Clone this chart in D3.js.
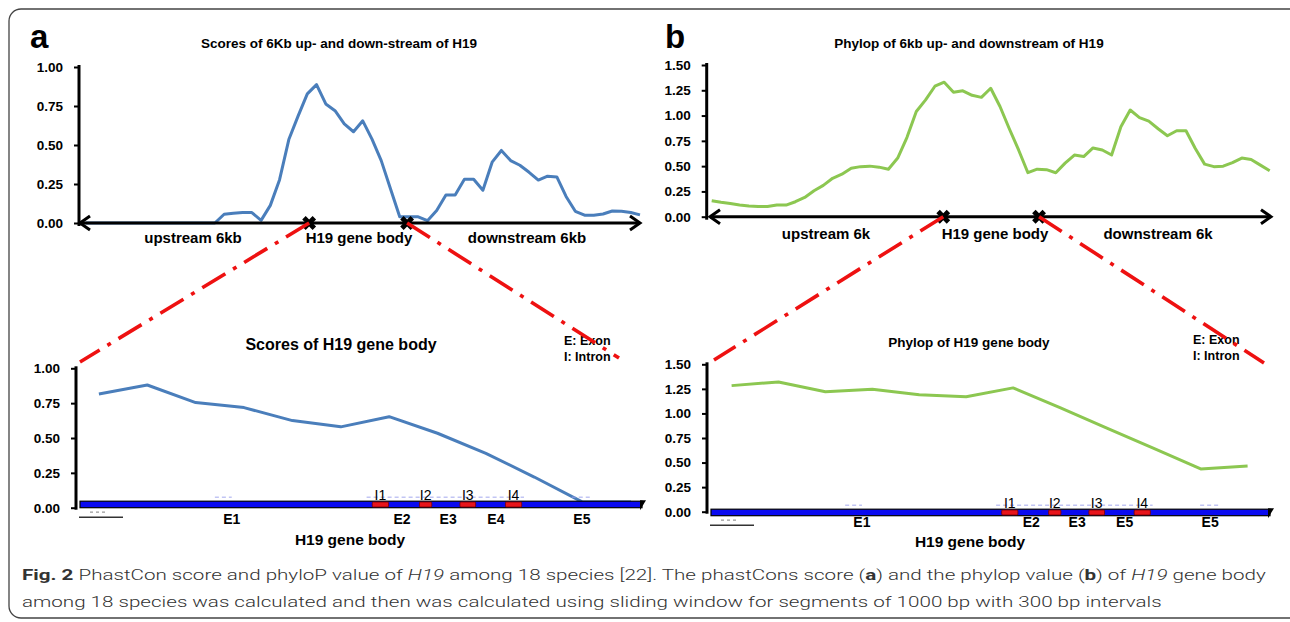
<!DOCTYPE html>
<html lang="en">
<head>
<meta charset="UTF-8">
<title>H19 conservation scores</title>
<script src="https://cdnjs.cloudflare.com/ajax/libs/d3/7.8.5/d3.min.js"></script>
<style>
  body { margin: 0; background: #fff; }
  svg { display: block; }
  svg text { font-family: "Liberation Sans", Arial, sans-serif; fill: #000; }
  .bold { font-weight: bold; }
  .caption { font-family: "Roboto", "Liberation Sans", sans-serif; fill: #333; }
</style>
</head>
<body>
<svg id="fig" width="1290" height="622"></svg>
<script>
// 61 sliding windows: 6 kb upstream, H19 gene body, 6 kb downstream
const phastConsFlank = [
  0, 0, 0, 0, 0, 0, 0, 0, 0, 0, 0, 0, 0, 0,
  0.00, 0.056, 0.063, 0.067, 0.067, 0.017, 0.113, 0.278, 0.535, 0.685,
  0.828, 0.887, 0.763, 0.72, 0.635, 0.585, 0.655, 0.538, 0.40, 0.22,
  0.04, 0.04, 0.04, 0.015, 0.08, 0.18, 0.18, 0.28, 0.28, 0.21,
  0.39, 0.465, 0.40, 0.37, 0.325, 0.275, 0.30, 0.295, 0.17, 0.075,
  0.05, 0.05, 0.058, 0.077, 0.075, 0.067, 0.052
];
const phyloPFlank = [
  0.158, 0.142, 0.13, 0.115, 0.105, 0.10, 0.10, 0.115, 0.115, 0.148,
  0.19, 0.257, 0.31, 0.38, 0.42, 0.48, 0.495, 0.50, 0.49, 0.47,
  0.58, 0.785, 1.04, 1.155, 1.29, 1.33, 1.23, 1.245, 1.20, 1.18,
  1.27, 1.09, 0.87, 0.66, 0.435, 0.47, 0.465, 0.435, 0.53, 0.61,
  0.595, 0.68, 0.66, 0.61, 0.89, 1.055, 0.98, 0.945, 0.87, 0.80,
  0.85, 0.85, 0.675, 0.52, 0.495, 0.50, 0.535, 0.58, 0.565, 0.51,
  0.455
];
// gene body windows (zoomed)
const phastConsBody = [0.816, 0.88, 0.754, 0.718, 0.625, 0.58, 0.653, 0.534, 0.39, 0.22, 0.04, 0.04];
const phyloPBody = [1.283, 1.32, 1.22, 1.245, 1.19, 1.17, 1.26, 1.06, 0.85, 0.645, 0.435, 0.465];

const phastTicks = [0, 0.25, 0.5, 0.75, 1.0];
const phyloTicks = [0, 0.25, 0.5, 0.75, 1.0, 1.25, 1.5];

// gene structure, as fraction of the drawn gene body
const intronSpans = [[0.520, 0.549], [0.604, 0.626], [0.676, 0.704], [0.757, 0.786]];
const intronLabels = ['I1', 'I2', 'I3', 'I4'];
const exonLabelPos = [0.27, 0.573, 0.655, 0.74, 0.893];
const exonLabelsA = ['E1', 'E2', 'E3', 'E4', 'E5'];
const exonLabelsB = ['E1', 'E2', 'E3', 'E5', 'E5'];
// window index where the gene body starts / ends on the flank plot
const geneBoundsA = [24.2, 34.8];
const geneBoundsB = [24.9, 35.2];

const flankLabelsA = ['upstream 6kb', 'H19 gene body', 'downstream 6kb'];
const flankLabelsB = ['upstream 6k', 'H19 gene body', 'downstream 6k'];

const panels = [
  {
    letter: 'a', color: '#4a7ebb', flank: phastConsFlank, body: phastConsBody,
    ticks: phastTicks, yMax: 1, gene: geneBoundsA, flankLabels: flankLabelsA, exonLabels: exonLabelsA,
    title: 'Scores of 6Kb up- and down-stream of H19', bodyTitle: 'Scores of H19 gene body',
    letterX: 30,
    top: { axisX: 79, y0: 223, y1: 67, x0: 85.5, x1: 640, arrowL: 80, arrowR: 640,
      titleX: 339, labelX: [193, 359, 527], labelY: 243 },
    bottom: { axisX: 76, y0: 507.7, y1: 368.3, x0: 98.9, x1: 631, barL: 80, barR: 642, barTop: -6.5,
      exonDy: 16.5, titleX: 341, titleY: 350, titleSize: 16, legendX: 564, legendY: 345,
      labelX: 350, labelY: 545, connL: [80, 362], connR: [619, 358] }
  },
  {
    letter: 'b', color: '#8cc751', flank: phyloPFlank, body: phyloPBody,
    ticks: phyloTicks, yMax: 1.5, gene: geneBoundsB, flankLabels: flankLabelsB, exonLabels: exonLabelsB,
    title: 'Phylop of 6kb up- and downstream of H19', bodyTitle: 'Phylop of H19 gene body',
    letterX: 665,
    top: { axisX: 706.7, y0: 216.7, y1: 65, x0: 711.7, x1: 1269.7, arrowL: 710, arrowR: 1271,
      titleX: 969, labelX: [826, 995, 1158], labelY: 239 },
    bottom: { axisX: 707, y0: 511.7, y1: 364.3, x0: 731.6, x1: 1247.6, barL: 711, barR: 1270, barTop: -2.5,
      exonDy: 15.5, titleX: 969, titleY: 347, titleSize: 13.5, legendX: 1193, legendY: 344,
      labelX: 970, labelY: 547, connL: [714, 360], connR: [1264, 363] }
  }
];

const svg = d3.select('#fig');
const fmt = d3.format('.2f');

// figure frame
svg.append('rect')
  .attr('x', 9).attr('y', 9).attr('width', 1310).attr('height', 609).attr('rx', 12)
  .attr('fill', 'none').attr('stroke', '#444').attr('stroke-width', 1.3);

function yAxis(g, y, ticks, axisX) {
  const a = g.append('g')
    .attr('transform', `translate(${axisX},0)`)
    .call(d3.axisLeft(y).tickValues(ticks).tickFormat(fmt).tickSize(5).tickSizeOuter(0).tickPadding(11));
  a.select('.domain').attr('stroke', '#000').attr('stroke-width', 3);
  a.selectAll('.tick line').attr('stroke', '#000').attr('stroke-width', 2);
  a.selectAll('.tick text').attr('class', 'bold').style('font-size', '13.5px').attr('fill', '#000');
  return a;
}

function drawTop(p) {
  const t = p.top;
  const g = svg.append('g');
  const x = d3.scaleLinear().domain([0, p.flank.length - 1]).range([t.x0, t.x1]);
  const y = d3.scaleLinear().domain([0, p.yMax]).range([t.y0, t.y1]);

  g.append('path').datum(p.flank)
    .attr('d', d3.line().x((d, i) => x(i)).y(d => y(d)))
    .attr('fill', 'none').attr('stroke', p.color).attr('stroke-width', 3)
    .attr('stroke-linejoin', 'round');

  const ax = yAxis(g, y, p.ticks, t.axisX);
  ax.select('.domain').attr('d', `M0,${t.y0 + 3}V${t.y1 - 2}`);

  // double headed x arrow
  g.append('line').attr('x1', t.arrowL).attr('x2', t.arrowR).attr('y1', t.y0).attr('y2', t.y0)
    .attr('stroke', '#000').attr('stroke-width', 3);
  g.append('path')
    .attr('d', `M${t.arrowL + 10},${t.y0 - 7}L${t.arrowL},${t.y0}L${t.arrowL + 10},${t.y0 + 7}` +
               `M${t.arrowR - 10},${t.y0 - 7}L${t.arrowR},${t.y0}L${t.arrowR - 10},${t.y0 + 7}`)
    .attr('fill', 'none').attr('stroke', '#000').attr('stroke-width', 3);

  g.selectAll('.xmark').data(p.gene).enter().append('path')
    .attr('d', d3.symbol().type(d3.symbolCross).size(120))
    .attr('transform', d => `translate(${x(d)},${t.y0}) rotate(45)`)
    .attr('fill', '#000');

  g.selectAll('.flank-label').data(p.flankLabels).enter().append('text')
    .attr('class', 'bold').attr('x', (d, i) => t.labelX[i]).attr('y', t.labelY)
    .attr('text-anchor', 'middle').style('font-size', '15px').text(d => d);

  g.append('text').attr('class', 'bold').attr('x', t.titleX).attr('y', 48)
    .attr('text-anchor', 'middle').style('font-size', '13.5px').text(p.title);

  g.append('text').attr('class', 'bold').attr('x', p.letterX).attr('y', 48)
    .style('font-size', '33px').text(p.letter);

  return x;
}

function drawBottom(p, xTop) {
  const b = p.bottom;
  const g = svg.append('g');
  const x = d3.scaleLinear().domain([0, p.body.length - 1]).range([b.x0, b.x1]);
  const y = d3.scaleLinear().domain([0, p.yMax]).range([b.y0, b.y1]);
  const gx = d3.scaleLinear().domain([0, 1]).range([b.barL, b.barR]);
  const y0 = y(0);
  const barY = y0 + b.barTop;

  g.append('path').datum(p.body)
    .attr('d', d3.line().x((d, i) => x(i)).y(d => y(d)))
    .attr('fill', 'none').attr('stroke', p.color).attr('stroke-width', 3)
    .attr('stroke-linejoin', 'round');

  // faint alignment track above the gene
  [[0.51, 0.79], [0.875, 0.91], [0.24, 0.27]].forEach(s => {
    g.append('line').attr('x1', gx(s[0])).attr('x2', gx(s[1])).attr('y1', barY - 4).attr('y2', barY - 4)
      .attr('stroke', '#9aa0ee').attr('stroke-width', 1.5).attr('stroke-dasharray', '4 3').attr('opacity', 0.6);
  });

  // gene body bar
  g.append('rect').attr('x', b.barL).attr('y', barY).attr('width', b.barR - b.barL).attr('height', 6.5)
    .attr('fill', '#0a0af0').attr('stroke', '#000').attr('stroke-width', 1.2);
  g.append('path')
    .attr('d', `M${b.barR - 2},${barY - 1}L${b.barR + 4},${barY - 1}L${b.barR - 2},${barY + 9}Z`)
    .attr('fill', '#000');
  g.selectAll('.intron').data(intronSpans).enter().append('rect')
    .attr('x', d => gx(d[0])).attr('width', d => gx(d[1]) - gx(d[0]))
    .attr('y', barY + 0.8).attr('height', 5).attr('rx', 1)
    .attr('fill', '#e8141b').attr('stroke', '#700').attr('stroke-width', 0.8);
  g.selectAll('.intron-label').data(intronLabels).enter().append('text')
    .attr('x', (d, i) => gx((intronSpans[i][0] + intronSpans[i][1]) / 2)).attr('y', barY - 1.5)
    .attr('text-anchor', 'middle').style('font-size', '14px').text(d => d);
  g.selectAll('.exon-label').data(p.exonLabels).enter().append('text')
    .attr('class', 'bold').attr('x', (d, i) => gx(exonLabelPos[i])).attr('y', y0 + b.exonDy)
    .attr('text-anchor', 'middle').style('font-size', '14px').text(d => d);

  // small scale bar under the start of the gene
  g.append('line').attr('x1', b.barL - 1).attr('x2', b.barL + 43).attr('y1', barY + 16).attr('y2', barY + 16)
    .attr('stroke', '#333').attr('stroke-width', 1.5);
  g.append('line').attr('x1', b.barL + 10).attr('x2', b.barL + 27).attr('y1', barY + 11).attr('y2', barY + 11)
    .attr('stroke', '#999').attr('stroke-width', 1.2).attr('stroke-dasharray', '3 3');

  const ax = yAxis(g, y, p.ticks, b.axisX);
  ax.select('.domain').attr('d', `M0,${y0 + 2}V${b.y1 - 2}`);

  g.append('text').attr('class', 'bold').attr('x', b.titleX).attr('y', b.titleY)
    .attr('text-anchor', 'middle').style('font-size', b.titleSize + 'px').text(p.bodyTitle);
  g.append('text').attr('x', b.legendX).attr('y', b.legendY).style('font-size', '12.5px')
    .attr('font-weight', 600).text('E: Exon');
  g.append('text').attr('x', b.legendX).attr('y', b.legendY + 16).style('font-size', '12.5px')
    .attr('font-weight', 600).text('I: Intron');
  g.append('text').attr('class', 'bold').attr('x', b.labelX).attr('y', b.labelY)
    .attr('text-anchor', 'middle').style('font-size', '15.5px').text('H19 gene body');

  // dash-dot connectors from the gene body marks down to the zoomed plot
  const ends = [b.connL, b.connR];
  svg.selectAll(null).data(p.gene).enter().append('line')
    .attr('x1', d => xTop(d)).attr('y1', p.top.y0)
    .attr('x2', (d, i) => ends[i][0]).attr('y2', (d, i) => ends[i][1])
    .attr('stroke', '#ee1111').attr('stroke-width', 3.6)
    .attr('stroke-dasharray', '27 9 4 9');
}

panels.forEach(p => {
  const xTop = drawTop(p);
  drawBottom(p, xTop);
});

// caption, one font for both lines, squeezed so the first line fills the frame
const captionLines = [
  [['Fig. 2', 'b'], [' PhastCon score and phyloP value of '], ['H19', 'i'],
   [' among 18 species [22]. The phastCons score ('], ['a', 'b'], [') and the phylop value ('],
   ['b', 'b'], [') of '], ['H19', 'i'], [' gene body']],
  [['among 18 species was calculated and then was calculated using sliding window for segments of 1000 bp with 300 bp intervals']]
];
const captionY = [580, 607];

const capTexts = captionLines.map((parts, li) => {
  const t = svg.append('text').attr('class', 'caption').style('font-size', '15.5px');
  t.selectAll('tspan').data(parts).enter().append('tspan')
    .attr('class', 'caption')
    .attr('font-weight', d => d[1] === 'b' ? 'bold' : 300)
    .attr('font-style', d => d[1] === 'i' ? 'italic' : 'normal')
    .attr('fill', d => d[1] === 'b' ? '#222' : '#333')
    .text(d => d[0]);
  return t;
});
const sx = 1245 / capTexts[0].node().getComputedTextLength();
capTexts.forEach((t, li) => t.attr('transform', `translate(22,${captionY[li]}) scale(${sx},1)`));
</script>
</body>
</html>
